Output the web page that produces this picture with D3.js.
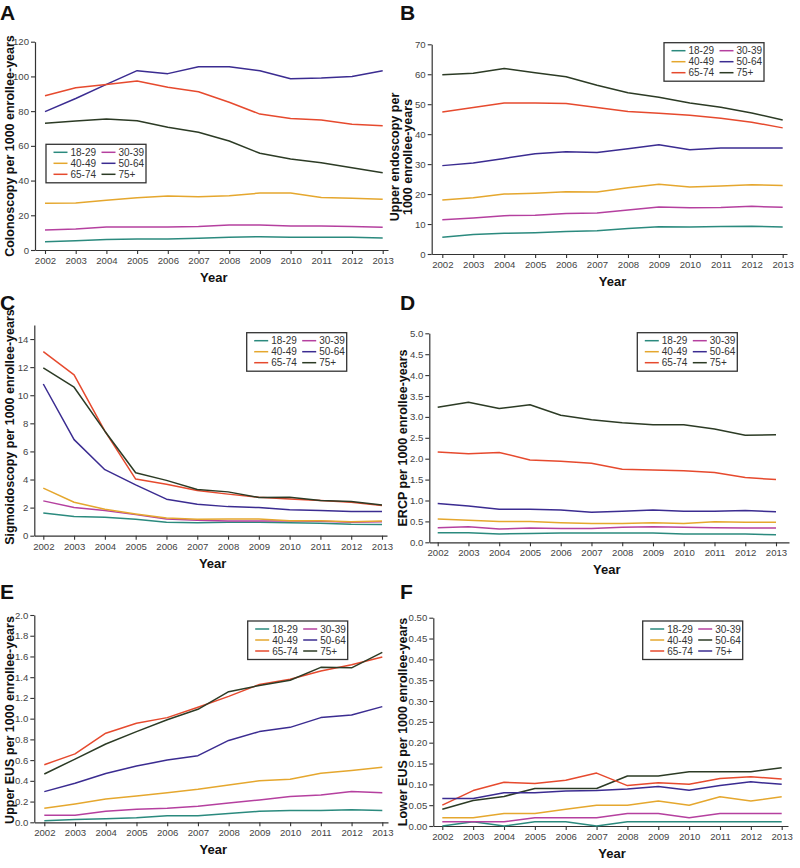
<!DOCTYPE html>
<html>
<head>
<meta charset="utf-8">
<script src="https://cdn.jsdelivr.net/npm/d3@7"></script>
<style>
  body { margin: 0; background: #fff; }
  svg { display: block; font-family: "Liberation Sans", Arial, sans-serif; }
</style>
</head>
<body>
<script>
// years on the x axis, shared by all six panels
let years = [2002, 2003, 2004, 2005, 2006, 2007, 2008, 2009, 2010, 2011, 2012, 2013]
let groups = ["18-29", "30-39", "40-49", "50-64", "65-74", "75+"]

let teal = "#2b8a7e", magenta = "#b5409f", gold = "#e5a72e",
    indigo = "#3b2c91", red = "#e64a2e", darkGreen = "#2c3b25"
let groupColors = [teal, magenta, gold, indigo, red, darkGreen]
// panel F swaps the 50-64 and 75+ colours
let lowerEusColors = [teal, magenta, gold, darkGreen, red, indigo]

// rates per 1000 enrollee-years, one row per age group (18-29 ... 75+)
let colonoscopy = [
  [4.8, 5.4, 6.1, 6.3, 6.3, 6.7, 7.3, 7.7, 7.3, 7.3, 7.3, 6.9],
  [11.5, 12.1, 13.2, 13.2, 13.2, 13.6, 14.4, 14.4, 13.8, 13.8, 13.6, 13.1],
  [26.9, 27.1, 28.6, 30.1, 31.1, 30.7, 31.3, 32.8, 32.8, 30.3, 29.8, 29.2],
  [79.7, 87.3, 95.4, 103.3, 101.6, 105.6, 105.6, 103.3, 98.7, 99.1, 100.0, 103.3],
  [88.9, 93.5, 95.4, 97.3, 93.7, 91.2, 85.1, 78.3, 75.8, 74.9, 72.4, 71.6],
  [73.0, 74.3, 75.5, 74.5, 70.7, 67.8, 62.8, 55.7, 52.4, 50.3, 47.4, 44.5]
]
let upperEndoscopy = [
  [5.6, 6.5, 6.9, 7.1, 7.5, 7.8, 8.5, 9.1, 9.0, 9.2, 9.3, 9.0],
  [11.4, 12.0, 12.8, 12.9, 13.5, 13.7, 14.7, 15.7, 15.4, 15.5, 15.9, 15.6],
  [18.0, 18.8, 20.0, 20.3, 20.8, 20.7, 22.1, 23.3, 22.4, 22.7, 23.1, 22.9],
  [29.5, 30.4, 31.9, 33.5, 34.1, 33.9, 35.1, 36.5, 34.8, 35.4, 35.4, 35.4],
  [47.4, 48.9, 50.4, 50.4, 50.2, 48.9, 47.6, 47.0, 46.3, 45.3, 44.0, 42.1],
  [59.8, 60.3, 61.9, 60.5, 59.2, 56.3, 53.8, 52.3, 50.4, 49.0, 47.1, 44.7]
]
let sigmoidoscopy = [
  [1.62, 1.36, 1.31, 1.17, 0.95, 0.93, 0.95, 0.95, 0.93, 0.88, 0.81, 0.79],
  [2.48, 2.0, 1.79, 1.5, 1.19, 1.1, 1.05, 1.05, 1.05, 1.03, 0.95, 1.0],
  [3.39, 2.38, 1.88, 1.55, 1.26, 1.17, 1.19, 1.19, 1.07, 1.07, 1.0, 1.05],
  [10.8, 6.84, 4.7, 3.62, 2.6, 2.24, 2.07, 2.0, 1.84, 1.79, 1.72, 1.72],
  [13.1, 11.45, 7.44, 4.03, 3.67, 3.22, 2.96, 2.74, 2.62, 2.5, 2.38, 2.15],
  [11.95, 10.57, 7.44, 4.48, 3.94, 3.29, 3.12, 2.72, 2.74, 2.5, 2.43, 2.19]
]
let ercp = [
  [0.23, 0.23, 0.2, 0.21, 0.22, 0.22, 0.22, 0.22, 0.2, 0.2, 0.2, 0.18],
  [0.35, 0.37, 0.32, 0.34, 0.33, 0.33, 0.36, 0.37, 0.36, 0.35, 0.34, 0.34],
  [0.56, 0.53, 0.5, 0.5, 0.47, 0.45, 0.45, 0.47, 0.45, 0.49, 0.48, 0.48],
  [0.93, 0.87, 0.79, 0.79, 0.77, 0.72, 0.74, 0.77, 0.74, 0.74, 0.76, 0.73],
  [2.16, 2.12, 2.15, 1.97, 1.94, 1.89, 1.75, 1.73, 1.71, 1.67, 1.55, 1.5],
  [3.23, 3.35, 3.2, 3.29, 3.04, 2.93, 2.86, 2.81, 2.81, 2.71, 2.56, 2.57]
]
let upperEus = [
  [0.016, 0.026, 0.035, 0.045, 0.064, 0.064, 0.084, 0.106, 0.113, 0.113, 0.122, 0.113],
  [0.068, 0.068, 0.106, 0.125, 0.135, 0.154, 0.186, 0.215, 0.248, 0.264, 0.296, 0.286],
  [0.135, 0.177, 0.225, 0.254, 0.286, 0.318, 0.36, 0.4, 0.415, 0.473, 0.5, 0.53],
  [0.296, 0.376, 0.47, 0.543, 0.6, 0.643, 0.79, 0.875, 0.916, 1.01, 1.035, 1.116],
  [0.556, 0.66, 0.86, 0.955, 1.01, 1.11, 1.215, 1.33, 1.38, 1.46, 1.52, 1.595],
  [0.466, 0.61, 0.755, 0.875, 0.99, 1.09, 1.26, 1.32, 1.37, 1.495, 1.49, 1.64]
]
let lowerEus = [
  [0.0, 0.01, 0.0, 0.01, 0.01, 0.0, 0.01, 0.01, 0.01, 0.01, 0.01, 0.01],
  [0.01, 0.01, 0.01, 0.02, 0.02, 0.02, 0.03, 0.03, 0.02, 0.03, 0.03, 0.03],
  [0.02, 0.02, 0.03, 0.03, 0.04, 0.05, 0.05, 0.06, 0.05, 0.07, 0.06, 0.07],
  [0.04, 0.061, 0.071, 0.09, 0.09, 0.09, 0.12, 0.12, 0.13, 0.13, 0.13, 0.14],
  [0.05, 0.085, 0.105, 0.102, 0.11, 0.127, 0.097, 0.104, 0.1, 0.114, 0.118, 0.113],
  [0.066, 0.066, 0.08, 0.08, 0.084, 0.085, 0.089, 0.095, 0.086, 0.097, 0.106, 0.1]
]

// y tick labels per panel
let ticksA = [0, 20, 40, 60, 80, 100, 120]
let ticksB = [0, 10, 20, 30, 40, 50, 60, 70]
let ticksC = [0, 2, 4, 6, 8, 10, 12, 14]
let ticksD = [0, 0.5, 1, 1.5, 2, 2.5, 3, 3.5, 4, 4.5, 5]
let ticksE = [0, 0.2, 0.4, 0.6, 0.8, 1, 1.2, 1.4, 1.6, 1.8, 2]
let ticksF = [0, 0.05, 0.1, 0.15, 0.2, 0.25, 0.3, 0.35, 0.4, 0.45, 0.5]

let panels = [
  { letter: "A", lx: 0, ly: 20, values: colonoscopy, colors: groupColors, ticks: ticksA, yMax: 120, fmt: "d",
    axisX: 35, x2002: 45, x2013: 382.7, right: 388, top: 41.7, bottom: 250,
    title: ["Colonoscopy per 1000 enrollee-years"], titleX: [9], titleY: 146, legend: [46, 144.3] },
  { letter: "B", lx: 400, ly: 20, values: upperEndoscopy, colors: groupColors, ticks: ticksB, yMax: 70, fmt: "d",
    axisX: 431.7, x2002: 442.3, x2013: 782.7, right: 787, top: 44.3, bottom: 254,
    title: ["Upper endoscopy per", "1000 enrollee-years"], titleX: [394, 407], titleY: 157, legend: [664, 42.7] },
  { letter: "C", lx: 0, ly: 310, values: sigmoidoscopy, colors: groupColors, ticks: ticksC, yMax: 15, fmt: "d",
    axisX: 34.3, x2002: 43.3, x2013: 382, right: 387, top: 325, bottom: 535.7,
    title: ["Sigmoidoscopy per 1000 enrollee-years"], titleX: [9], titleY: 427, legend: [246.7, 332.7] },
  { letter: "D", lx: 400, ly: 310, values: ercp, colors: groupColors, ticks: ticksD, yMax: 5, fmt: ".1f",
    axisX: 429.3, x2002: 437.7, x2013: 776, right: 789, top: 333.3, bottom: 542.3,
    title: ["ERCP per 1000 enrollee-years"], titleX: [402], titleY: 438, legend: [637.3, 332.7] },
  { letter: "E", lx: 0, ly: 599, values: upperEus, colors: groupColors, ticks: ticksE, yMax: 2, fmt: ".1f",
    axisX: 34.3, x2002: 44.3, x2013: 382.3, right: 388, top: 615, bottom: 822.3,
    title: ["Upper EUS per 1000 enrollee-years"], titleX: [9], titleY: 720, legend: [247.7, 621] },
  { letter: "F", lx: 400, ly: 599, values: lowerEus, colors: lowerEusColors, ticks: ticksF, yMax: 0.5, fmt: ".2f",
    axisX: 433.3, x2002: 442.3, x2013: 781.7, right: 788, top: 617.7, bottom: 826,
    title: ["Lower EUS per 1000 enrollee-years"], titleX: [402], titleY: 722, legend: [642.7, 621] }
]

let svg = d3.select("body").append("svg")
  .attr("width", 800)
  .attr("height", 868)

function drawPanel(p) {
  let g = svg.append("g")

  // x scale placed on the years, then stretched out to the drawn axis ends
  let x = d3.scaleLinear().domain([2002, 2013]).range([p.x2002, p.x2013])
  x.domain([x.invert(p.axisX), x.invert(p.right)]).range([p.axisX, p.right])
  let y = d3.scaleLinear().domain([0, p.yMax]).range([p.bottom, p.top])

  let xAxis = g.append("g")
    .attr("transform", "translate(0," + p.bottom + ")")
    .call(d3.axisBottom(x).tickValues(years).tickFormat(d3.format("d")).tickSize(4).tickSizeOuter(0).tickPadding(3))
  let yAxis = g.append("g")
    .attr("transform", "translate(" + p.axisX + ",0)")
    .call(d3.axisLeft(y).tickValues(p.ticks).tickFormat(d3.format(p.fmt)).tickSize(4).tickSizeOuter(0).tickPadding(2))

  ;[xAxis, yAxis].forEach(function (a) {
    a.select(".domain").attr("stroke", "#333").attr("stroke-width", 1.2)
    a.selectAll(".tick line").attr("stroke", "#333").attr("stroke-width", 1.1)
    a.selectAll(".tick text").attr("fill", "#444").attr("font-size", 9.6)
      .attr("font-family", "'Liberation Sans', Arial, sans-serif")
  })

  let line = d3.line()
    .x(function (d, i) { return x(years[i]) })
    .y(function (d) { return y(d) })

  p.values.forEach(function (vals, k) {
    g.append("path")
      .datum(vals)
      .attr("d", line)
      .attr("fill", "none")
      .attr("stroke", p.colors[k])
      .attr("stroke-width", 1.5)
      .attr("stroke-linejoin", "round")
  })

  // axis titles
  g.append("text")
    .attr("x", (x(2002) + x(2013)) / 2)
    .attr("y", p.bottom + 32)
    .attr("text-anchor", "middle")
    .attr("font-size", 13)
    .attr("font-weight", "bold")
    .attr("fill", "#111")
    .text("Year")

  p.title.forEach(function (t, i) {
    g.append("text")
      .attr("transform", "translate(" + p.titleX[i] + "," + p.titleY + ") rotate(-90)")
      .attr("dy", "0.36em")
      .attr("text-anchor", "middle")
      .attr("font-size", 12.5)
      .attr("font-weight", "bold")
      .attr("fill", "#111")
      .text(t)
  })

  g.append("text")
    .attr("x", p.lx)
    .attr("y", p.ly)
    .attr("font-size", 21)
    .attr("font-weight", "bold")
    .attr("fill", "#111")
    .text(p.letter)

  // legend: 3 rows x 2 columns
  let lg = g.append("g").attr("transform", "translate(" + p.legend[0] + "," + p.legend[1] + ")")
  lg.append("rect")
    .attr("width", 100)
    .attr("height", 38.5)
    .attr("fill", "#fff")
    .attr("stroke", "#333")
    .attr("stroke-width", 1.3)

  groups.forEach(function (name, k) {
    let col = k % 2, row = Math.floor(k / 2)
    let cx = col === 0 ? 7.5 : 55.5
    let cy = 8 + row * 11
    lg.append("line")
      .attr("x1", cx).attr("x2", cx + 14)
      .attr("y1", cy).attr("y2", cy)
      .attr("stroke", p.colors[k])
      .attr("stroke-width", 1.5)
    lg.append("text")
      .attr("x", cx + 17)
      .attr("y", cy)
      .attr("dy", "0.35em")
      .attr("font-size", 10)
      .attr("fill", "#333")
      .text(name)
  })
}

panels.forEach(drawPanel)
</script>
</body>
</html>
